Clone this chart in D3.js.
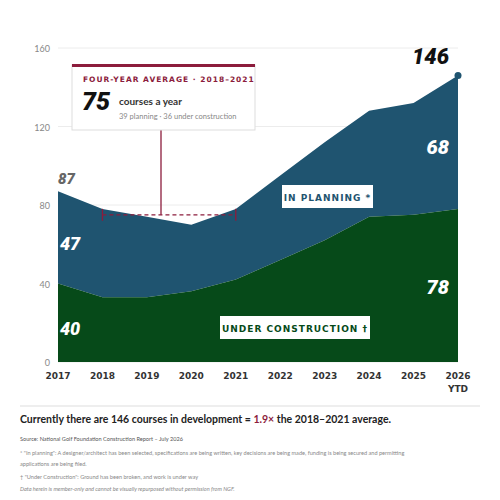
<!DOCTYPE html>
<html><head><meta charset="utf-8">
<script src="https://cdn.jsdelivr.net/npm/d3@7"></script>
<style>body{margin:0;background:#fff;font-family:Lato,"Open Sans",sans-serif}</style>
</head><body><svg id="c" width="500" height="500"></svg>
<script>
const years = ["2017","2018","2019","2020","2021","2022","2023","2024","2025","2026"];
const construction = [40, 33, 33, 36, 42, 52, 62, 74, 75, 78];
const planning = [47, 45, 41, 34, 36, 43, 50, 54, 57, 68];
const yTicks = [0, 40, 80, 120, 160];

const svg = d3.select("#c");
const x = d3.scalePoint().domain(years).range([58, 458]);
const y = d3.scaleLinear().domain([0, 160]).range([362, 48]);

// gridlines
svg.selectAll(".grid").data(yTicks).enter().append("line")
  .attr("x1", 58).attr("x2", 458).attr("y1", d => y(d)).attr("y2", d => y(d))
  .attr("stroke", "#ececec");
svg.selectAll(".yl").data(yTicks).enter().append("text")
  .attr("x", 50).attr("y", d => y(d) + 4).attr("text-anchor", "end")
  .attr("font-size", 9).attr("fill", "#888").text(d => d);

const stack = years.map((yr, i) => ({ yr, c: construction[i], t: construction[i] + planning[i] }));
svg.append("path").datum(stack).attr("fill", "#1f5470")
  .attr("d", d3.area().x(d => x(d.yr)).y0(d => y(d.c)).y1(d => y(d.t)));
svg.append("path").datum(stack).attr("fill", "#064a19")
  .attr("d", d3.area().x(d => x(d.yr)).y0(y(0)).y1(d => y(d.c)));
svg.append("circle").attr("cx", x("2026")).attr("cy", y(stack[9].t)).attr("r", 3.5).attr("fill", "#1f5470");

// x labels
svg.selectAll(".xl").data(years).enter().append("text")
  .attr("x", d => x(d)).attr("y", 379).attr("text-anchor", "middle")
  .attr("font-size", 9).attr("font-weight", "bold").attr("fill", "#333")
  .attr("font-family", "DejaVu Sans").text(d => d);
svg.append("text").attr("x", x("2026")).attr("y", 392).attr("text-anchor", "middle")
  .attr("font-size", 9).attr("font-weight", "bold").attr("fill", "#333")
  .attr("font-family", "DejaVu Sans").text("YTD");

// value labels
const big = (t, xx, yy, fill, size, anchor) => svg.append("text").attr("x", xx).attr("y", yy)
  .attr("text-anchor", anchor || "start").attr("font-size", size).attr("font-weight", "900")
  .attr("font-style", "italic").attr("fill", fill).attr("font-family", "Roboto").text(t);
big(stack[0].t, 58, 184, "#666", 15);
big(planning[0], 60, 250, "#fff", 18);
big(construction[0], 60, 335, "#fff", 18);
big(stack[9].t, 449, 64, "#111", 22, "end");
big(planning[9], 449, 154, "#fff", 20, "end");
big(construction[9], 449, 294, "#fff", 20, "end");

// boxed labels
function tag(t, xx, yy, w, col) {
  svg.append("rect").attr("x", xx).attr("y", yy).attr("width", w).attr("height", 23).attr("fill", "#fff");
  svg.append("text").attr("x", xx + w / 2).attr("y", yy + 15.5).attr("text-anchor", "middle")
    .attr("font-size", 9).attr("font-weight", "bold").attr("letter-spacing", 1)
    .attr("fill", col).attr("font-family", "DejaVu Sans").text(t);
}
tag("IN PLANNING *", 282, 185, 91, "#1f5470");
tag("UNDER CONSTRUCTION \u2020", 220, 316, 150, "#064a19");

// average bracket
const avgY = y(75), red = "#8c1c3c";
svg.append("line").attr("x1", x("2018")).attr("x2", x("2021")).attr("y1", avgY).attr("y2", avgY)
  .attr("stroke", red).attr("stroke-width", 1.3).attr("stroke-dasharray", "4,3");
svg.selectAll(".tk").data(["2018", "2021"]).enter().append("line")
  .attr("x1", d => x(d)).attr("x2", d => x(d)).attr("y1", avgY - 6).attr("y2", avgY + 6)
  .attr("stroke", red).attr("stroke-width", 1.3);
svg.append("line").attr("x1", 161).attr("x2", 161).attr("y1", 130).attr("y2", avgY).attr("stroke", red).attr("stroke-width", 1.3);
svg.append("rect").attr("x", 72).attr("y", 65).attr("width", 183).attr("height", 65)
  .attr("fill", "#fff").attr("stroke", "#ddd");
svg.append("rect").attr("x", 72).attr("y", 64).attr("width", 183).attr("height", 3).attr("fill", red);
svg.append("text").attr("x", 83).attr("y", 82).attr("font-size", 7.5).attr("font-weight", "bold")
  .attr("letter-spacing", 1).attr("fill", red).attr("font-family", "DejaVu Sans")
  .text("FOUR-YEAR AVERAGE \u00b7 2018\u20132021");
svg.append("text").attr("x", 82).attr("y", 110).attr("font-size", 25).attr("font-weight", "900")
  .attr("font-style", "italic").attr("fill", "#111").attr("font-family", "Roboto").text("75");
svg.append("text").attr("x", 119).attr("y", 105).attr("font-size", 10).attr("font-weight", "bold").attr("fill", "#333").text("courses a year");
svg.append("text").attr("x", 119).attr("y", 119).attr("font-size", 7.5).attr("fill", "#888").text("39 planning \u00b7 36 under construction");

// footer
svg.append("line").attr("x1", 20).attr("x2", 480).attr("y1", 406).attr("y2", 406).attr("stroke", "#ddd");
const h = svg.append("text").attr("x", 20).attr("y", 423).attr("font-size", 10.5).attr("font-weight", "bold").attr("fill", "#222");
h.append("tspan").text("Currently there are 146 courses in development = ");
h.append("tspan").attr("fill", red).text("1.9\u00d7");
h.append("tspan").text(" the 2018\u20132021 average.");
const notes = [
  ["Source: National Golf Foundation Construction Report \u2013 July 2026", 441, "#555", "normal"],
  ["* \"In planning\": A designer/architect has been selected, specifications are being written, key decisions are being made, funding is being secured and permitting", 455, "#888", "normal"],
  ["applications are being filed.", 466, "#888", "normal"],
  ["\u2020 \"Under Construction\": Ground has been broken, and work is under way", 479, "#888", "normal"],
  ["Data herein is member-only and cannot be visually repurposed without permission from NGF.", 491, "#888", "italic"]
];
svg.selectAll(".n").data(notes).enter().append("text").attr("x", 20).attr("y", d => d[1])
  .attr("font-size", 5.6).attr("fill", d => d[2]).attr("font-style", d => d[3]).text(d => d[0]);
</script></body></html>
